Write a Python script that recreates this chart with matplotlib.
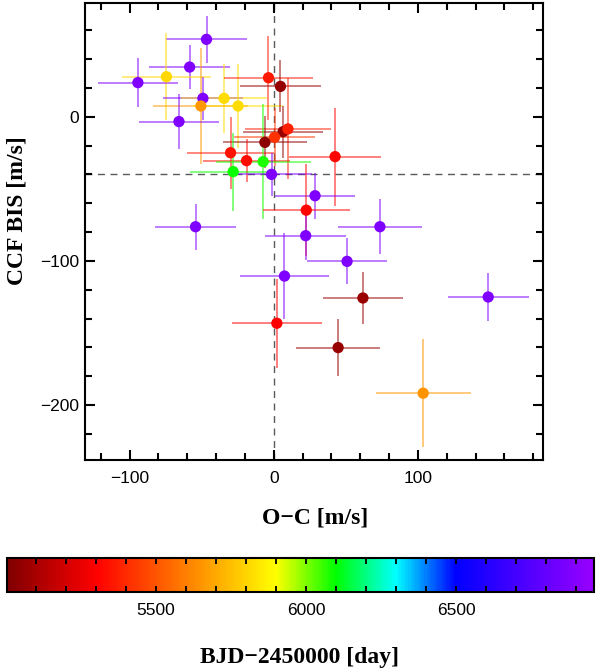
import numpy as np
import matplotlib
matplotlib.use("Agg")
import matplotlib.pyplot as plt
from matplotlib.colors import LinearSegmentedColormap, Normalize
from matplotlib.ticker import MultipleLocator

# O-C residuals [m/s], CCF bisector [m/s], errors and epoch (BJD-2450000)
oc = [-46.7, -58.4, -74.5, -94.3, -49.2, -34.5, -50.6, -24.8, -65.8, -3.7,
      4.6, 6.4, 9.8, 0.5, -6.2, -30.0, -18.9, -7.4, -28.2, -1.6,
      42.5, 28.6, 22.5, -54.3, 22.1, 73.6, 50.8, 7.4, 61.8, 2.1,
      44.6, 148.7, 103.6]
bis = [53.6, 34.4, 27.7, 23.6, 12.7, 12.7, 7.4, 7.4, -3.4, 27.0,
       21.0, -10.4, -8.5, -14.3, -17.8, -25.0, -30.5, -31.2, -38.1, -40.0,
       -27.7, -54.8, -64.8, -76.3, -82.5, -76.3, -100.3, -110.5, -125.7, -143.2,
       -160.1, -125.0, -191.7]
oc_err = [28, 28, 31, 28, 28, 30, 33, 31, 28, 31,
          28, 28, 30, 28, 29, 30, 30, 33, 30, 28,
          32, 28, 30, 28, 28, 29, 28, 31, 28, 31,
          29, 28, 33]
bis_err = [16.5, 15, 30, 17, 15, 24, 40, 29, 19, 29,
           18, 18, 35, 20, 18, 25, 15, 40, 27, 15,
           34, 16, 32, 16, 17, 19, 16, 30, 18, 31,
           19.5, 16.5, 37.6]
bjd = [6880, 6880, 5810, 6880, 6880, 5820, 5660, 5815, 6880, 5360,
       5060, 5060, 5370, 5420, 5040, 5340, 5330, 6080, 6090, 6880,
       5320, 6880, 5310, 6880, 6880, 6880, 6880, 6880, 5070, 5300,
       5060, 6880, 5650]

date_min, date_max = 5002, 6961
cbar_ticks = [5500, 6000, 6500]

# rainbow running from dark red to violet
nodes = [(0.0, (0.5, 0, 0)), (0.152, (1, 0, 0)), (0.458, (1, 1, 0)),
         (0.56, (0, 1, 0)), (0.663, (0, 1, 1)), (0.765, (0, 0, 1)),
         (1.0, (0.6, 0, 1))]
cmap = LinearSegmentedColormap.from_list("bjd", nodes)
norm = Normalize(date_min, date_max)

plt.rcParams['font.family'] = ['Liberation Sans', 'DejaVu Sans']
fig = plt.figure(figsize=(5.98, 6.72), dpi=100)
ax = fig.add_axes([0.1421, 0.3155, 0.7654, 0.6796])

for i in range(len(oc)):
    ax.errorbar(oc[i], bis[i], xerr=oc_err[i], yerr=bis_err[i], fmt='none',
                ecolor=cmap(norm(bjd[i])), alpha=0.55, elinewidth=1.3, zorder=2)
sc = ax.scatter(oc, bis, c=bjd, cmap=cmap, norm=norm, s=66, linewidths=0, zorder=3)

ax.axvline(0, color='0.35', lw=1, ls=(0, (5, 4)), zorder=1)
ax.axhline(-40, color='0.35', lw=1, ls=(0, (5, 4)), zorder=1)

ax.set_xlim(-131, 186.5)
ax.set_ylim(-238, 78.6)
ax.xaxis.set_major_locator(MultipleLocator(100))
ax.xaxis.set_minor_locator(MultipleLocator(20))
ax.yaxis.set_major_locator(MultipleLocator(100))
ax.yaxis.set_minor_locator(MultipleLocator(20))
ax.tick_params(which='both', direction='in', top=True, right=True, width=1.5,
               labelsize=12.5)
ax.tick_params(which='major', length=7.5)
ax.tick_params(which='minor', length=5)
ax.tick_params(axis='x', pad=8)
ax.tick_params(axis='y', pad=4)
for s in ax.spines.values():
    s.set_linewidth(1.5)

serif = ['Liberation Serif', 'DejaVu Serif']
fig.text(315 / 598, 1 - 518 / 672, 'O\u2212C [m/s]', ha='center', va='center',
         family=serif, fontweight='bold', fontsize=17)
fig.text(17 / 598, 1 - 211 / 672, 'CCF BIS [m/s]', ha='center', va='center',
         rotation=90, family=serif, fontweight='bold', fontsize=17)

cax = fig.add_axes([0.0112, 0.119, 0.9826, 0.0502])
cb = fig.colorbar(sc, cax=cax, orientation='horizontal')
cb.set_ticks(cbar_ticks)
cb.ax.xaxis.set_minor_locator(MultipleLocator(100))
cb.ax.tick_params(which='both', direction='in', top=True, bottom=True, length=4.5,
                  width=1.3, labelsize=12.5, pad=8)
cb.outline.set_linewidth(1.5)
fig.text(300 / 598, 1 - 658 / 672, 'BJD\u22122450000 [day]', ha='center', va='center',
         family=serif, fontweight='bold', fontsize=17)

fig.savefig('out.png', dpi=100)
